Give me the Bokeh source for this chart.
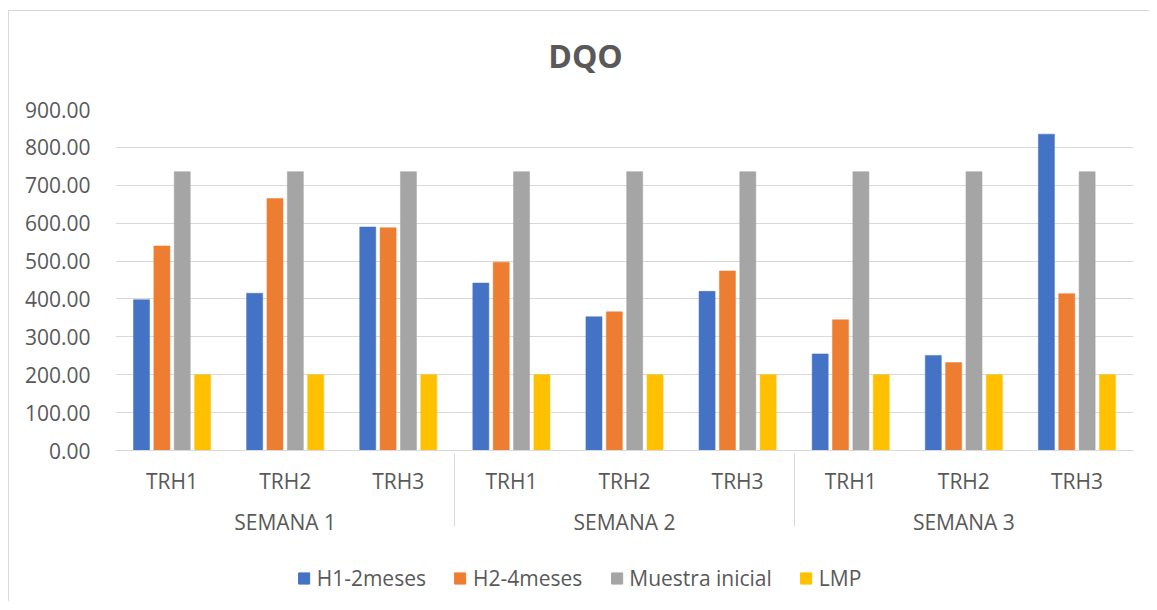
from bokeh.plotting import figure
from bokeh.layouts import column
from bokeh.models import (FactorRange, ColumnDataSource, NumeralTickFormatter,
                          FixedTicker, Legend, LegendItem, Range1d, Label)
from bokeh.transform import dodge
from bokeh.embed import file_html
from bokeh.resources import INLINE

semanas = ["SEMANA 1", "SEMANA 2", "SEMANA 3"]
trh = ["TRH1", "TRH2", "TRH3"]
h1_2meses = [398, 415, 590, 442, 353, 420, 255, 251, 835]
h2_4meses = [540, 665, 588, 497, 366, 474, 345, 232, 414]
muestra_inicial = [736, 736, 736, 736, 736, 736, 736, 736, 736]
lmp = [200, 200, 200, 200, 200, 200, 200, 200, 200]
y_ticks = [0, 100, 200, 300, 400, 500, 600, 700, 800, 900]
series_names = ["H1-2meses", "H2-4meses", "Muestra inicial", "LMP"]
colors = ["#4472C4", "#ED7D31", "#A5A5A5", "#FFC000"]
chart_title = "DQO"

x = [(s, t) for s in semanas for t in trh]
src = ColumnDataSource(dict(x=x, h1=h1_2meses, h2=h2_4meses, mi=muestra_inicial, lmp=lmp))

FONT = "Open Sans"
TXT = "#595959"
GRID = "#D9D9D9"

xr = FactorRange(*x, factor_padding=0, group_padding=0, range_padding=0)

# title strip
head = figure(frame_width=1140, frame_height=86, output_backend="svg", toolbar_location=None,
              x_range=Range1d(0, 1), y_range=Range1d(0, 1),
              min_border_left=0, min_border_right=0, min_border_top=0, min_border_bottom=0)
head.axis.visible = False
head.grid.visible = False
head.outline_line_color = None
head.add_layout(Label(x=470, y=42, x_units="screen", y_units="screen", text=chart_title,
                      text_align="center", text_baseline="middle", text_font=FONT,
                      text_font_size="32px", text_font_style="bold", text_color=TXT))

p = figure(frame_width=1018, frame_height=341, output_backend="svg", toolbar_location=None,
           x_range=xr, y_range=Range1d(0, 900),
           min_border_left=106, min_border_right=16, min_border_top=12,
           min_border_bottom=105)

fields = ["h1", "h2", "mi", "lmp"]
offsets = [-0.27, -0.09, 0.09, 0.27]
for f, off, c in zip(fields, offsets, colors):
    p.vbar(x=dodge("x", off, range=xr), top=f, width=0.142, source=src,
           fill_color=c, line_color=c, line_width=0.5)

p.outline_line_color = None
p.xgrid.grid_line_color = None
p.ygrid.grid_line_color = GRID
p.ygrid.grid_line_width = 1

p.yaxis.ticker = FixedTicker(ticks=y_ticks)
p.yaxis.formatter = NumeralTickFormatter(format="0.00")
p.yaxis.axis_line_color = None
p.yaxis.major_tick_line_color = None
p.yaxis.minor_tick_line_color = None
p.yaxis.major_label_text_font = FONT
p.yaxis.major_label_text_font_size = "21px"
p.yaxis.major_label_text_color = TXT
p.yaxis.major_label_standoff = 19

xa = p.xaxis[0]
xa.axis_line_color = GRID
xa.axis_line_width = 1
xa.major_tick_line_color = None
xa.minor_tick_line_color = None
xa.major_label_text_font = FONT
xa.major_label_text_font_size = "21px"
xa.major_label_text_color = TXT
xa.major_label_standoff = 10
xa.group_text_font = FONT
xa.group_text_font_size = "21px"
xa.group_text_color = TXT
xa.group_text_font_style = "normal"
xa.separator_line_color = GRID
xa.separator_line_width = 1

# legend strip: same series as hidden renderers, only the legend is shown
leg = figure(frame_width=1083, frame_height=46, output_backend="svg", toolbar_location=None,
             x_range=xr, y_range=Range1d(0, 900),
             min_border_left=41, min_border_right=16, min_border_top=0, min_border_bottom=0)
leg.axis.visible = False
leg.grid.visible = False
leg.outline_line_color = None
items = []
for f, off, c, n in zip(fields, offsets, colors, series_names):
    r = leg.vbar(x=dodge("x", off, range=xr), top=f, width=0.142, source=src,
                 fill_color=c, line_color=c, visible=False)
    items.append(LegendItem(label=n, renderers=[r]))
legend = Legend(items=items, orientation="horizontal", location="center",
                label_text_font=FONT, label_text_font_size="21px", label_text_color=TXT,
                glyph_width=14, glyph_height=14, label_standoff=6, spacing=27,
                border_line_color=None, background_fill_alpha=0, margin=0, padding=4,
                inactive_fill_alpha=0)
leg.add_layout(legend, "center")

layout = column(head, p, leg, spacing=0, margin=(10, 0, 0, 8),
                styles={"border-left": "1px solid #D9D9D9", "border-top": "1px solid #D9D9D9"})

open("out.html", "w").write(file_html(layout, INLINE))
